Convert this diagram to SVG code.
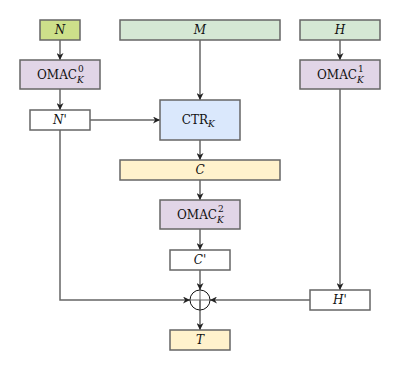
<svg xmlns="http://www.w3.org/2000/svg" width="400" height="370" viewBox="0 0 400 370">
<defs>
<marker id="ah" viewBox="0 0 10 10" refX="10" refY="5" markerWidth="7" markerHeight="7" orient="auto" markerUnits="userSpaceOnUse">
<path d="M0,0 L10,5 L0,10 L3,5 Z" fill="#222"/>
</marker>
</defs>
<style>
rect{stroke:#666;stroke-width:1.5}
text{font-family:"DejaVu Serif","Liberation Serif",serif;font-size:12px;fill:#111;text-anchor:middle;dominant-baseline:central}
.i{font-style:italic}
.s{font-size:9px;text-anchor:start}
.e{text-anchor:end}
.c line,.c polyline{stroke:#666;stroke-width:1.5;fill:none}
.a{marker-end:url(#ah)}
</style>
<rect width="400" height="370" fill="#fff" style="stroke:none"/>
<g class="c" id="connectors">
<line class="a" x1="60" y1="40" x2="60" y2="60"/>
<line class="a" x1="60" y1="89" x2="60" y2="110"/>
<line class="a" x1="90" y1="120" x2="160" y2="120"/>
<line class="a" x1="200" y1="40" x2="200" y2="100"/>
<line class="a" x1="200" y1="140" x2="200" y2="160"/>
<line class="a" x1="200" y1="180" x2="200" y2="200"/>
<line class="a" x1="200" y1="229" x2="200" y2="250"/>
<line class="a" x1="200" y1="270" x2="200" y2="290"/>
<line class="a" x1="200" y1="300" x2="200" y2="330"/>
<polyline class="a" points="60,130 60,300 190,300"/>
<line class="a" x1="340" y1="40" x2="340" y2="60"/>
<line class="a" x1="340" y1="89" x2="340" y2="290"/>
<line class="a" x1="310" y1="300" x2="210" y2="300"/>
</g>
<g id="N"><rect x="40" y="20" width="40" height="20" fill="#cde08a"/><text x="60" y="30" class="i">N</text></g>
<g id="M"><rect x="120" y="20" width="160" height="20" fill="#d5e8d4"/><text x="200" y="30" class="i">M</text></g>
<g id="H"><rect x="300" y="20" width="80" height="20" fill="#d5e8d4"/><text x="340" y="30" class="i">H</text></g>
<g id="OMAC0"><rect x="20" y="60" width="80" height="29" fill="#e1d5e7"/><text x="77" y="75" class="e">OMAC</text><text x="78" y="69" class="s">0</text><text x="77" y="80" class="s i">K</text></g>
<g id="OMAC1"><rect x="300" y="60" width="80" height="29" fill="#e1d5e7"/><text x="357" y="75" class="e">OMAC</text><text x="358" y="69" class="s">1</text><text x="357" y="80" class="s i">K</text></g>
<g id="Nprime"><rect x="30" y="110" width="60" height="20" fill="#fff"/><text x="60" y="120"><tspan class="i">N</tspan>'</text></g>
<g id="CTR"><rect x="160" y="100" width="80" height="40" fill="#dae8fc"/><text x="208" y="120" class="e">CTR</text><text x="208" y="124" class="s i">K</text></g>
<g id="C"><rect x="120" y="160" width="160" height="20" fill="#fff2cc"/><text x="200" y="170" class="i">C</text></g>
<g id="OMAC2"><rect x="160" y="200" width="80" height="29" fill="#e1d5e7"/><text x="217" y="215" class="e">OMAC</text><text x="218" y="209" class="s">2</text><text x="217" y="220" class="s i">K</text></g>
<g id="Cprime"><rect x="170" y="250" width="60" height="20" fill="#fff"/><text x="200" y="260"><tspan class="i">C</tspan>'</text></g>
<g id="Hprime"><rect x="310" y="290" width="60" height="20" fill="#fff"/><text x="340" y="300"><tspan class="i">H</tspan>'</text></g>
<g id="XOR"><circle cx="200" cy="300" r="10" fill="none" stroke="#111" stroke-width="1"/><line x1="190" y1="300" x2="210" y2="300" stroke="#666" stroke-width="1"/><line x1="200" y1="290" x2="200" y2="310" stroke="#666" stroke-width="1"/></g>
<g id="T"><rect x="170" y="330" width="60" height="20" fill="#fff2cc"/><text x="200" y="340" class="i">T</text></g>
</svg>
